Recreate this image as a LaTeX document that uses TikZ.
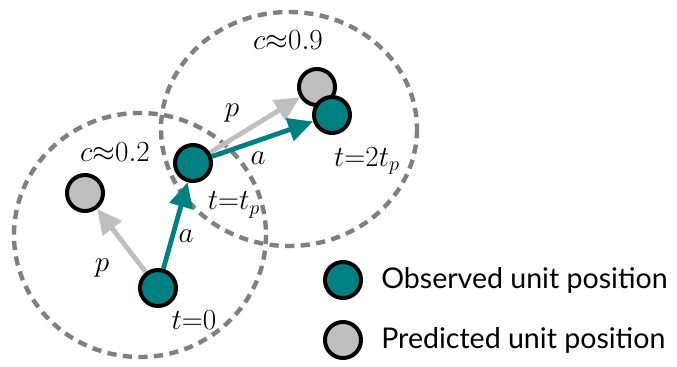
\documentclass[tikz,border=0pt]{standalone}
\usepackage{fontspec}
\setsansfont{Lato}
\usepackage{tikz}
\usetikzlibrary{arrows.meta,positioning,backgrounds}
\definecolor{tealobs}{HTML}{008080}
\definecolor{greypred}{HTML}{BFBFBF}
\definecolor{greyzone}{HTML}{808080}

\begin{document}
\begin{tikzpicture}[x=0.025cm,y=-0.025cm,
				every node/.style={font=\fontsize{22}{24}\selectfont},
				obs/.style={circle,draw=black,line width=0.1cm,fill=tealobs,minimum size=0.9cm,inner sep=0pt},
				pred/.style={circle,draw=black,line width=0.1cm,fill=greypred,minimum size=0.9cm,inner sep=0pt},
				zone/.style={draw=greyzone,line width=0.11cm,dash pattern=on 0.23cm off 0.16cm},
				lbl/.style={inner sep=1pt},
				legend/.style={font=\sffamily\fontsize{20.3}{22}\selectfont,inner sep=0pt,anchor=west},
				parr/.style={-{Triangle[length=0.62cm,width=0.58cm]},line width=0.12cm,greypred},
				aarr/.style={-{Triangle[length=0.62cm,width=0.58cm]},line width=0.12cm,tealobs}]

				\useasboundingbox (0,0) rectangle (677,367);

				% unit positions
				\node[obs] (t0) at (158,288) {};
				\node[pred] (p1) at (85,193) {};
				\node[obs] (t1) at (193,163) {};
				\node[pred] (p2) at (317,87) {};
				\node[obs] (t2) at (332,115) {};

				% labels
				\node[lbl] (c1) at (115,152) {$c{\approx}0.2$};
				\node[lbl] (c2) at (288,40) {$c{\approx}0.9$};
				\node[lbl] (lt0) at (194,320) {$t{=}0$};
				\node[lbl] (lt1) at (234,205) {$t{=}t_p$};
				\node[lbl] (lt2) at (367,161) {$t{=}2t_p$};
				\node[lbl] (lp1) at (102,268) {$p$};
				\node[lbl] (la1) at (186,236) {$a$};
				\node[lbl] (lp2) at (232,113) {$p$};
				\node[lbl] (la2) at (258,158) {$a$};

				% legend
				\node[obs] (lobs) at (343,280) {};
				\node[pred] (lpred) at (343,340) {};
				\node[legend,right=0.45cm of lobs] (tobs) {Observed unit position};
				\node[legend,right=0.45cm of lpred] (tpred) {Predicted unit position};

				\begin{scope}[on background layer]
								\draw[zone] (140,235) ellipse[x radius=126,y radius=122];
								\draw[zone] (289,129) ellipse[x radius=128,y radius=117];
								\draw[parr] (t0) -- (p1);
								\draw[aarr] (t0) -- (t1);
								\draw[parr] (t1) -- (p2);
								\draw[aarr] (t1) -- (t2);
				\end{scope}
			\end{tikzpicture}
\end{document}
